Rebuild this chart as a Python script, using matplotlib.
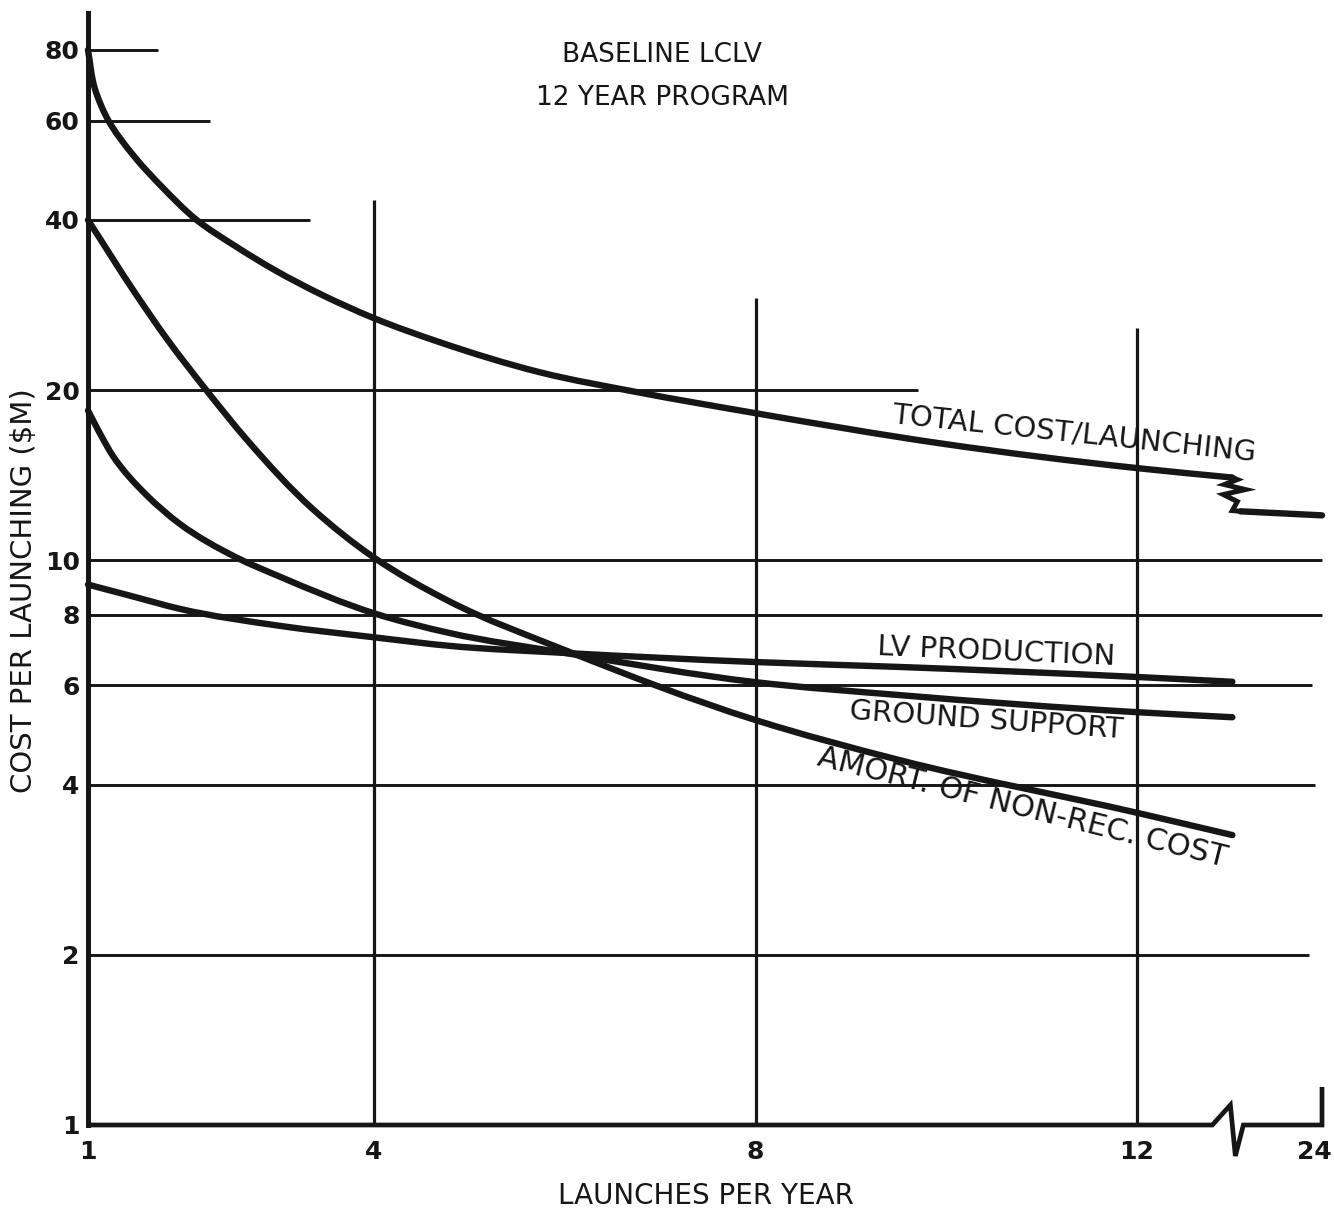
import numpy as np
import matplotlib
matplotlib.use("Agg")
import matplotlib.pyplot as plt
from matplotlib.ticker import NullLocator, NullFormatter
from matplotlib.transforms import IdentityTransform, ScaledTranslation
from matplotlib.path import Path
from matplotlib.patches import PathPatch

# ---------------- data ----------------
launches_total = [1.0, 1.07, 1.2, 1.49, 1.78, 2.14, 2.54, 2.96, 3.45, 4.0, 4.69, 5.74, 6.78, 8.0, 9.93, 12.0, 13.0]
cost_total = [80, 68.5, 60.6, 51.7, 45.7, 40.0, 36.0, 32.6, 29.5, 26.8, 24.3, 21.5, 19.8, 18.2, 16.1, 14.55, 14.0]
launches_total_after_break = [14, 24]
cost_total_after_break = [12.2, 12.0]

launches_amort = [1.0, 1.5, 1.83, 2.25, 2.67, 3.36, 4.0, 4.79, 6.0, 8.0, 9.5, 12.0, 13.0]
cost_amort = [40, 29.6, 24.6, 19.9, 16.3, 12.3, 10.1, 8.45, 6.93, 5.21, 4.43, 3.57, 3.26]

launches_ground = [1.0, 1.13, 1.26, 1.62, 1.96, 2.56, 3.01, 4.0, 4.79, 6.0, 8.0, 9.5, 12.0, 13.0]
cost_ground = [18.4, 16.7, 15.3, 13.0, 11.6, 10.1, 9.35, 8.05, 7.43, 6.85, 6.08, 5.77, 5.38, 5.27]

launches_lv = [1.0, 1.44, 1.96, 3.01, 4.0, 4.79, 6.0, 8.0, 9.5, 12.0, 13.0]
cost_lv = [9.05, 8.65, 8.2, 7.65, 7.3, 7.05, 6.85, 6.6, 6.47, 6.21, 6.09]

x_tick_values = [1, 4, 8, 12, 24]
x_tick_labels = ["1", "4", "8", "12", "24"]
y_tick_values = [1, 2, 4, 6, 8, 10, 20, 40, 60, 80]
y_tick_labels = ["1", "2", "4", "6", "8", "10", "20", "40", "60", "80"]

title_lines = ["BASELINE LCLV", "12 YEAR PROGRAM"]
x_label = "LAUNCHES PER YEAR"
y_label = "COST PER LAUNCHING ($M)"
curve_labels = ["TOTAL COST/LAUNCHING", "LV PRODUCTION", "GROUND SUPPORT", "AMORT. OF NON-REC. COST"]

# ---------------- layout / style ----------------
W, H = 1334, 1211
INK = "#161616"
hgrid_values = [2, 4, 6, 8, 10, 20, 40, 60, 80]
hgrid_end = [22.4, 23.1, 22.8, 24, 24, 9.7, 3.33, 2.28, 1.73]
vgrid_values = [4, 8, 12]
vgrid_top = [43.4, 29.1, 25.8]

BREAK_AT = 13.0
SQUEEZE = 0.94 / 11.0


def fwd(x):
    x = np.asarray(x, dtype=float)
    return np.where(x <= BREAK_AT, x, BREAK_AT + (x - BREAK_AT) * SQUEEZE)


def inv(p):
    p = np.asarray(p, dtype=float)
    return np.where(p <= BREAK_AT, p, BREAK_AT + (p - BREAK_AT) / SQUEEZE)


plt.rcParams["font.family"] = ["DejaVu Sans"]

fig = plt.figure(figsize=(W / 100, H / 100), dpi=100)
fig.patch.set_facecolor("white")
ax = fig.add_axes([88 / W, (H - 1125) / H, (1322 - 88) / W, (1125 - 13) / H])
ax.set_facecolor("white")
ax.set_xscale("function", functions=(fwd, inv))
ax.set_yscale("log")
ax.set_xlim(1, 24)
ax.set_ylim(1, 93)

for s in ["top", "right", "bottom"]:
    ax.spines[s].set_visible(False)
ax.spines["left"].set_linewidth(3.6)
ax.spines["left"].set_color(INK)

ax.set_xticks(x_tick_values)
ax.set_xticklabels(x_tick_labels)
ax.set_yticks(y_tick_values)
ax.set_yticklabels(y_tick_labels)
ax.yaxis.set_minor_locator(NullLocator())
ax.yaxis.set_minor_formatter(NullFormatter())
ax.xaxis.set_minor_locator(NullLocator())
ax.tick_params(axis="both", length=0, labelsize=18, colors=INK)
ax.tick_params(axis="x", pad=11)
ax.tick_params(axis="y", pad=6)
for lab in ax.get_xticklabels() + ax.get_yticklabels():
    lab.set_fontweight("bold")
last = ax.get_xticklabels()[-1]
last.set_transform(last.get_transform() + ScaledTranslation(-8 / 100, 0, fig.dpi_scale_trans))

# partial grid lines
for yv, xe in zip(hgrid_values, hgrid_end):
    ax.plot([1, xe], [yv, yv], color=INK, lw=2.1, solid_capstyle="butt", clip_on=False, zorder=2)
for xv, yt in zip(vgrid_values, vgrid_top):
    ax.plot([xv, xv], [1, yt], color=INK, lw=2.3, solid_capstyle="butt", clip_on=False, zorder=2)


def smooth_curve(xs, ys, lw=4.6):
    """Draw a smooth stroke (Bessel-tangent cubic Beziers) through the data points."""
    P = ax.transData.transform(np.column_stack([xs, ys]))
    n = len(P)
    seg = np.diff(P, axis=0)
    d = np.linalg.norm(seg, axis=1)
    u = seg / d[:, None]
    T = np.zeros_like(P)
    T[0] = u[0]
    T[-1] = u[-1]
    for i in range(1, n - 1):
        T[i] = (d[i] * u[i - 1] + d[i - 1] * u[i]) / (d[i - 1] + d[i])
    verts = [P[0]]
    codes = [Path.MOVETO]
    for i in range(n - 1):
        verts += [P[i] + T[i] * d[i] / 3, P[i + 1] - T[i + 1] * d[i] / 3, P[i + 1]]
        codes += [Path.CURVE4] * 3
    patch = PathPatch(Path(verts, codes), fill=False, edgecolor=INK, lw=lw,
                      capstyle="round", joinstyle="round", transform=IdentityTransform(),
                      clip_on=False, zorder=4)
    fig.add_artist(patch)


# curves
smooth_curve(launches_total, cost_total)
smooth_curve(launches_total_after_break, cost_total_after_break)
smooth_curve(launches_amort, cost_amort)
smooth_curve(launches_ground, cost_ground)
smooth_curve(launches_lv, cost_lv)

# zigzag break in total curve (display-pixel offsets from the curve end)
a = ax.transData.transform((launches_total[-1], cost_total[-1]))
b = ax.transData.transform((launches_total_after_break[0], cost_total_after_break[0]))
zig = [(0, 0), (5, 2), (-8, 7), (13, 12), (-9, 17), (5, 24), (0, 33)]
zx = [a[0] + dx for dx, dy in zig] + [b[0]]
zy = [a[1] - dy for dx, dy in zig] + [b[1]]
ax.plot(zx, zy, color=INK, lw=3.6, solid_joinstyle="miter", transform=IdentityTransform(),
        clip_on=False, zorder=4)

# bottom axis with break symbol
o = ax.transData.transform((1, 1))
c = ax.transData.transform((BREAK_AT, 1))
r = ax.transData.transform((24, 1))
bx = [o[0] - 2, c[0] - 20, c[0] - 2, c[0] + 3, c[0] + 11, r[0], r[0]]
by = [o[1], c[1], c[1] + 20, c[1] - 31, c[1], r[1], r[1] + 38]
ax.plot(bx, by, color=INK, lw=3.4, solid_joinstyle="miter", solid_capstyle="butt",
        transform=IdentityTransform(), clip_on=False, zorder=5)


def px(x, y):
    return x / W, 1 - y / H


# titles and labels
fig.text(*px(662, 55), title_lines[0], ha="center", va="center", fontsize=19, color=INK)
fig.text(*px(662, 98), title_lines[1], ha="center", va="center", fontsize=19, color=INK)
fig.text(*px(706, 1196), x_label, ha="center", va="center", fontsize=20, color=INK)
fig.text(*px(24, 591), y_label, ha="center", va="center", fontsize=21, rotation=90, color=INK)

label_pos = [(1074, 434, -6.0, 21), (996, 652, -2.4, 21), (986, 721, -4.0, 21), (1022, 808, -14.0, 22)]
for txt, (lx, ly, rot, fs) in zip(curve_labels, label_pos):
    fig.text(*px(lx, ly), txt, ha="center", va="center", fontsize=fs, rotation=rot,
             rotation_mode="anchor", color=INK)

fig.savefig("out.png", dpi=100, facecolor="white")
